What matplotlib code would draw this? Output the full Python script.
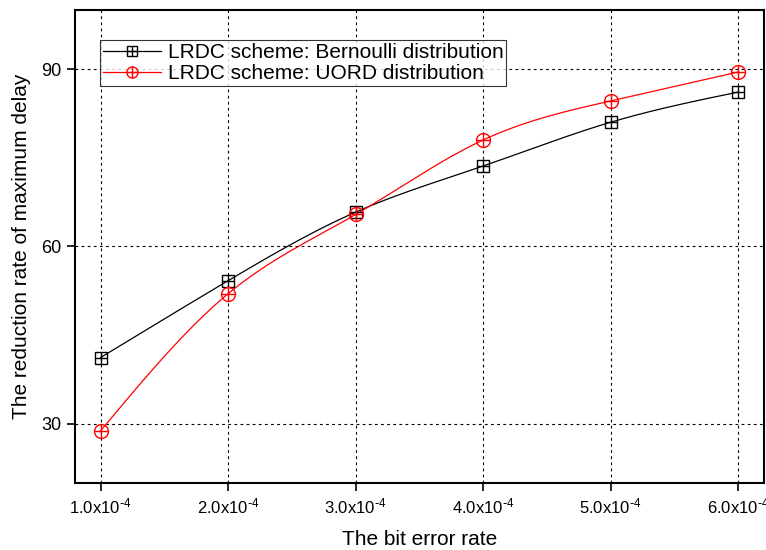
import matplotlib
matplotlib.use("Agg")
import matplotlib.pyplot as plt
import numpy as np
from matplotlib.legend_handler import HandlerTuple

plt.rcParams["font.family"] = ["Liberation Sans", "DejaVu Sans"]
plt.rcParams["mathtext.default"] = "regular"
plt.rcParams["axes.unicode_minus"] = False

ber = [1.0, 2.0, 3.0, 4.0, 5.0, 6.0]  # x 1e-4
tick_labels = ["1.0x10$^{\\text{-}4}$", "2.0x10$^{\\text{-}4}$", "3.0x10$^{\\text{-}4}$",
               "4.0x10$^{\\text{-}4}$", "5.0x10$^{\\text{-}4}$", "6.0x10$^{\\text{-}4}$"]
bernoulli = [41.2, 54.2, 65.8, 73.6, 81.0, 86.1]
uord = [28.8, 52.0, 65.4, 78.0, 84.6, 89.5]


def spline(x, y, n=200):
    """Natural cubic spline, used only to draw the smooth connecting line."""
    x = np.asarray(x, float)
    y = np.asarray(y, float)
    k = len(x)
    h = np.diff(x)
    A = np.zeros((k, k))
    b = np.zeros(k)
    A[0, 0] = A[-1, -1] = 1
    for i in range(1, k - 1):
        A[i, i - 1] = h[i - 1]
        A[i, i] = 2 * (h[i - 1] + h[i])
        A[i, i + 1] = h[i]
        b[i] = 6 * ((y[i + 1] - y[i]) / h[i] - (y[i] - y[i - 1]) / h[i - 1])
    m = np.linalg.solve(A, b)
    xs = np.linspace(x[0], x[-1], n)
    idx = np.clip(np.searchsorted(x, xs) - 1, 0, k - 2)
    x0, x1 = x[idx], x[idx + 1]
    hh = x1 - x0
    t0, t1 = x1 - xs, xs - x0
    ys = (m[idx] * t0 ** 3 + m[idx + 1] * t1 ** 3) / (6 * hh) \
        + (y[idx] / hh - m[idx] * hh / 6) * t0 \
        + (y[idx + 1] / hh - m[idx + 1] * hh / 6) * t1
    return xs, ys


fig = plt.figure(figsize=(7.66, 5.5), dpi=100)
ax = fig.add_axes([0.098, 0.122, 0.899, 0.86])

handles, labels = [], []
for vals, color, mk, size, label in [
    (bernoulli, "black", "s", 8.5, "LRDC scheme: Bernoulli distribution"),
    (uord, "red", "o", 10, "LRDC scheme: UORD distribution"),
]:
    xs, ys = spline(ber, vals)
    ax.plot(xs, ys, color=color, lw=0.9, zorder=3)
    ax.plot(ber, vals, linestyle="none", marker=mk, ms=size,
            mfc="none", mec=color, mew=1.0, zorder=4)
    ax.plot(ber, vals, linestyle="none", marker="+", ms=size,
            mec=color, mew=1.0, zorder=4)
    h1, = ax.plot([], [], color=color, lw=0.9, marker=mk, ms=size * 0.8,
                  mfc="none", mec=color)
    h2, = ax.plot([], [], linestyle="none", marker="+", ms=size * 0.8,
                  mec=color)
    handles.append((h1, h2))
    labels.append(label)

ax.set_xlim(0.8, 6.2)
ax.set_ylim(20, 100)
ax.set_xticks(ber)
ax.set_xticklabels(tick_labels, fontsize=12)
ax.set_yticks([30, 60, 90])
ax.tick_params(axis="y", labelsize=13)
ax.tick_params(direction="out", length=6, width=1.2)
ax.grid(True, color="black", linestyle=(0, (2.5, 3)), lw=0.8)
for s in ax.spines.values():
    s.set_linewidth(1.5)

ax.set_xlabel("The bit error rate", fontsize=15, labelpad=10)
ax.set_ylabel("The reduction rate of maximum delay", fontsize=15, labelpad=8)

leg = ax.legend(handles, labels, handler_map={tuple: HandlerTuple(ndivide=1, pad=0)},
                loc="upper left", bbox_to_anchor=(0.036, 0.937), fontsize=15,
                frameon=True, fancybox=False, edgecolor="black",
                borderpad=0.15, labelspacing=0.1, handlelength=2.8,
                handletextpad=0.3, borderaxespad=0)
leg.get_frame().set_linewidth(0.8)

fig.savefig("out.png", dpi=100)
